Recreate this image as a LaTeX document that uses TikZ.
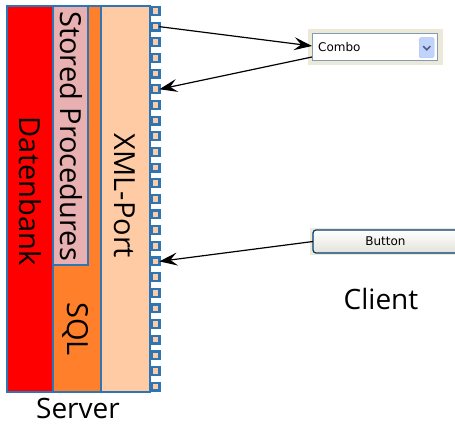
\documentclass[tikz,border=0pt]{standalone}
\usepackage{fontspec}
\setmainfont{Open Sans}
\newfontfamily\uifont{DejaVu Sans}
\usetikzlibrary{arrows.meta,calc}
\definecolor{bordblue}{HTML}{2E75B6}
\definecolor{sqlorange}{HTML}{FF7F2A}
\definecolor{peach}{HTML}{FFCBA4}
\definecolor{sppink}{HTML}{E8B0B0}
\definecolor{xpbeige}{HTML}{ECE9D8}
\definecolor{comboborder}{HTML}{7F9DB9}
\definecolor{dropblue}{HTML}{C1D3FB}
\definecolor{dropborder}{HTML}{B1C4F0}
\definecolor{chevcol}{HTML}{4D6185}
\definecolor{btnborder}{HTML}{003C74}
\definecolor{btngrey}{HTML}{E3E2DA}
\begin{document}
\begin{tikzpicture}[x=1pt,y=-1pt,
  layer/.style={draw=bordblue,line width=2pt,anchor=north west,inner sep=0pt,outer sep=0pt},
  port/.style={draw=bordblue,line width=2.2pt,fill=peach,minimum size=7.8pt,inner sep=0pt,outer sep=0pt},
  vlabel/.style={rotate=-90,font=\fontsize{29}{29}\selectfont,inner sep=0pt},
  caption/.style={font=\fontsize{28}{28}\selectfont,inner sep=0pt},
  ui/.style={font=\uifont\fontsize{12}{12}\selectfont,inner sep=0pt},
  conn/.style={-{Stealth[length=18pt,width=13pt,inset=7pt]},line width=1.2pt}
]
\useasboundingbox (0,0) rectangle (455,425);
\begin{scope}
\clip (0,0) rectangle (455,425);
% server layers
\node[layer,fill=red,minimum width=46pt,minimum height=386pt] (db) at (7,6) {};
\node[layer,fill=sqlorange,minimum width=48pt,minimum height=386pt] (sql) at (53,6) {};
\node[layer,fill=peach,minimum width=49pt,minimum height=386pt] (xml) at (101,6) {};
\node[layer,fill=sppink,minimum width=35pt,minimum height=258.5pt] (sp) at (53,6) {};
\foreach \i in {1,...,25} {
  \node[port] (p\i) at (155.5,{11+(\i-1)*15.65}) {};
}
% labels
\node[vlabel] (tdb) at (30.5,191) {Datenbank};
\node[vlabel] (tsp) at (71,136) {Stored Procedures};
\node[vlabel] (txml) at (125,196) {XML-Port};
\node[vlabel] (tsql) at (76,329) {SQL};
\node[caption] (tserver) at (78,408) {Server};
\node[caption] (tclient) at (381,299) {Client};
% combo box
\node[fill=xpbeige,minimum width=135pt,minimum height=36pt,inner sep=0pt,anchor=north west] (combobg) at (308,29) {};
\node[draw=comboborder,fill=white,line width=1pt,minimum width=125pt,minimum height=27pt,anchor=north west,inner sep=0pt,outer sep=0pt] (combo) at (312,34) {};
\node[fill=dropblue,draw=dropborder,rounded corners=1.5pt,minimum width=15pt,minimum height=20pt,anchor=north west,inner sep=0pt] (drop) at (419,37.5) {};
\draw[chevcol,line width=1.6pt] ($(drop.center)+(-3.5,-1.5)$) -- ++(3.5,3.5) -- ++(3.5,-3.5);
\node[ui,anchor=west] (combotext) at (318,47.5) {Combo};
% button
\node[fill=xpbeige,anchor=north west,minimum width=150pt,minimum height=27pt,inner sep=0pt] (btnbg) at (310,228) {};
\node[draw=btnborder,line width=1.2pt,rounded corners=3pt,top color=white,bottom color=btngrey,minimum width=145pt,minimum height=23pt,anchor=north west,inner sep=0pt,outer sep=0pt] (button) at (313,230) {};
\node[ui] (btntext) at (button.center) {Button};
\end{scope}
% connectors
\draw[conn] (p2.east) -- ([yshift=1.5pt]combo.west);
\draw[conn] ([yshift=-9.5pt]combo.west) -- (p6.east);
\draw[conn] (button.west) -- (p17.east);
\end{tikzpicture}
\end{document}
